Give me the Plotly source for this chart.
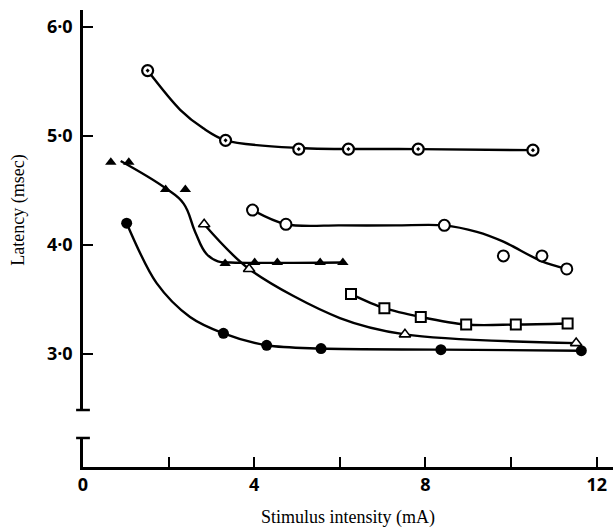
import plotly.graph_objects as go

# ---- data ----
# series A: dotted circles
a_x = [1.51, 3.33, 5.04, 6.20, 7.83, 10.51]
a_y = [5.60, 4.96, 4.88, 4.88, 4.88, 4.87]
a_cx = [1.51, 2.27, 2.81, 3.33, 5.04, 7.83, 10.51]
a_cy = [5.60, 5.24, 5.07, 4.96, 4.89, 4.88, 4.87]

# series B: open circles
b_x = [3.96, 4.74, 8.44, 9.82, 10.72, 11.30]
b_y = [4.32, 4.19, 4.18, 3.90, 3.90, 3.78]
b_cx = [3.96, 4.74, 6.0, 7.3, 8.44, 9.2, 9.82, 10.72, 11.30]
b_cy = [4.32, 4.19, 4.18, 4.18, 4.18, 4.12, 4.03, 3.85, 3.78]

# series C: filled triangles
c_x = [0.65, 1.07, 1.93, 2.39, 3.32, 4.01, 4.54, 5.54, 6.07]
c_y = [4.76, 4.76, 4.51, 4.51, 3.83, 3.84, 3.84, 3.84, 3.84]
c_cx = [0.88, 1.93, 2.35, 2.62, 2.88, 3.15, 3.45, 6.07]
c_cy = [4.77, 4.52, 4.38, 4.12, 3.92, 3.85, 3.84, 3.84]

# series D: open triangles
d_x = [2.83, 3.88, 7.52, 11.52]
d_y = [4.19, 3.78, 3.18, 3.10]
d_cx = [2.83, 3.88, 6.0, 7.52, 11.52]
d_cy = [4.19, 3.78, 3.33, 3.18, 3.10]

# series E: open squares
e_x = [6.26, 7.04, 7.89, 8.95, 10.11, 11.32]
e_y = [3.55, 3.42, 3.34, 3.27, 3.27, 3.28]

# series F: filled circles
f_x = [1.02, 3.28, 4.29, 5.56, 8.36, 11.64]
f_y = [4.20, 3.19, 3.08, 3.05, 3.04, 3.03]
f_cx = [1.02, 1.72, 2.5, 3.28, 4.29, 5.56, 8.36, 11.64]
f_cy = [4.20, 3.65, 3.34, 3.19, 3.08, 3.05, 3.04, 3.03]

x_ticks = [0, 2, 4, 6, 8, 10, 12]
x_labels = ["0", "", "4", "", "8", "", "12"]
y_ticks = [3, 4, 5, 6]
y_labels = ["3·0", "4·0", "5·0", "6·0"]

LW = 2.4
fig = go.Figure()

# invisible trace so the lower (broken) axis segment exists
fig.add_trace(go.Scatter(x=[0], y=[0], xaxis="x", yaxis="y2", mode="markers",
                         marker=dict(opacity=0), hoverinfo="skip", showlegend=False))

def curve(x, y, sm=0.9):
    fig.add_trace(go.Scatter(x=x, y=y, mode="lines", yaxis="y", xaxis="x",
                             line=dict(color="black", width=LW, shape="spline", smoothing=sm),
                             hoverinfo="skip", showlegend=False))

def pts(x, y, symbol, fill, size=10, lw=2):
    fig.add_trace(go.Scatter(x=x, y=y, mode="markers", yaxis="y", xaxis="x",
                             marker=dict(symbol=symbol, size=size, color=fill,
                                         line=dict(color="black", width=lw)),
                             showlegend=False, cliponaxis=False))

curve(a_cx, a_cy)
curve(b_cx, b_cy)
curve(c_cx, c_cy, 1.2)
curve(d_cx, d_cy)
curve(e_x, e_y)
curve(f_cx, f_cy)

pts(a_x, a_y, "circle-dot", "white", 11, 2.2)
pts(b_x, b_y, "circle", "white", 11, 2)
pts(c_x, c_y, "triangle-up", "black", 10, 0)
pts(d_x, d_y, "triangle-up", "white", 10, 1.6)
pts(e_x, e_y, "square", "white", 10, 2)
pts(f_x, f_y, "circle", "black", 11, 0)

upper_lo = 0.1247
lower_hi = 0.0635

tickfont = dict(family="Open Sans", size=18, color="black", weight="bold")
titlefont = dict(family="Liberation Serif", size=18, color="black")

fig.update_layout(
    width=613, height=531,
    margin=dict(l=83, r=0, t=10, b=64),
    paper_bgcolor="white", plot_bgcolor="white",
    showlegend=False,
    xaxis=dict(range=[0, 12.38], anchor="y2", showline=True, linecolor="black", linewidth=2.5,
               ticks="inside", ticklen=10, tickwidth=2, tickcolor="black",
               tickvals=x_ticks, ticktext=x_labels, showgrid=False, zeroline=False,
               tickfont=tickfont,
               title=dict(text="Stimulus intensity (mA)", font=titlefont, standoff=16)),
    yaxis=dict(domain=[upper_lo, 1], range=[2.486, 6.156], anchor="x", showline=True,
               linecolor="black", linewidth=2.5, ticks="inside", ticklen=10, tickwidth=2,
               tickcolor="black", tickvals=y_ticks, ticktext=y_labels, showgrid=False,
               zeroline=False, ticklabelstandoff=4, tickfont=tickfont,
               title=dict(text="Latency (msec)", font=titlefont, standoff=18)),
    yaxis2=dict(domain=[0, lower_hi], range=[0, 1], anchor="x", showline=True,
                linecolor="black", linewidth=2.5, ticks="", showticklabels=False,
                showgrid=False, zeroline=False),
    shapes=[
        dict(type="line", xref="paper", yref="paper", x0=-0.013, x1=0.013,
             y0=upper_lo, y1=upper_lo, line=dict(color="black", width=2.5)),
        dict(type="line", xref="paper", yref="paper", x0=-0.013, x1=0.013,
             y0=lower_hi, y1=lower_hi, line=dict(color="black", width=2.5)),
    ],
)

fig.write_html("out.html")
